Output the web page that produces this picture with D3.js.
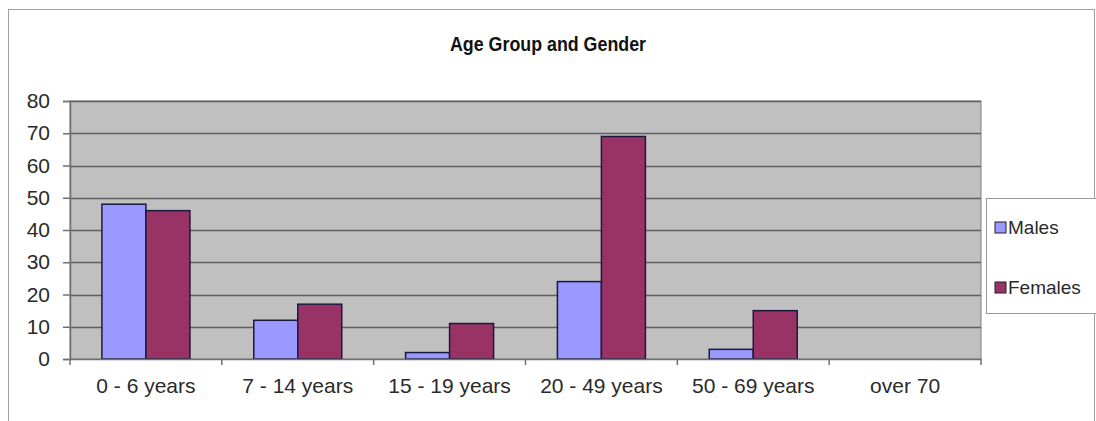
<!DOCTYPE html>
<html lang="en">
<head>
  <meta charset="UTF-8">
  <title>Age Group and Gender</title>
  <script src="https://d3js.org/d3.v7.min.js"></script>
  <style>
    body { margin: 0; background: #fff; font-family: "Liberation Sans", Arial, sans-serif; }
    svg { display: block; }
  </style>
</head>
<body>
  <div id="chart"></div>
  <script>
    const categories = ['0 - 6 years', '7 - 14 years', '15 - 19 years', '20 - 49 years', '50 - 69 years', 'over 70'];
    const males = [48, 12, 2, 24, 3, 0];
    const females = [46, 17, 11, 69, 15, 0];
    const yTicks = [0, 10, 20, 30, 40, 50, 60, 70, 80];
    const seriesNames = ['Males', 'Females'];
    const colors = ['#9999ff', '#993366'];

    const width = 1096, height = 421;
    const plot = { left: 70, right: 981, top: 101, bottom: 359 };
    const font = '"Liberation Sans", Arial, sans-serif';

    const svg = d3.select('#chart').append('svg')
      .attr('width', width)
      .attr('height', height);

    // outer chart frame
    svg.append('rect')
      .attr('x', 8.5).attr('y', 9.5)
      .attr('width', 1086).attr('height', 430)
      .attr('fill', '#fff')
      .attr('stroke', '#a0a0a0');

    svg.append('text')
      .attr('x', 548).attr('y', 51)
      .attr('text-anchor', 'middle')
      .attr('font-size', 21)
      .attr('font-weight', 'bold')
      .attr('textLength', 196)
      .attr('lengthAdjust', 'spacingAndGlyphs')
      .attr('fill', '#111')
      .text('Age Group and Gender');

    const x = d3.scaleBand()
      .domain(categories)
      .range([plot.left, plot.right]);

    const y = d3.scaleLinear()
      .domain([0, 80])
      .range([plot.bottom, plot.top]);

    // plot background
    svg.append('rect')
      .attr('x', plot.left).attr('y', plot.top)
      .attr('width', plot.right - plot.left)
      .attr('height', plot.bottom - plot.top)
      .attr('fill', '#c0c0c0')
      .attr('stroke', '#808080');

    // gridlines
    svg.append('g')
      .selectAll('line')
      .data(yTicks.slice(1))
      .enter().append('line')
      .attr('x1', plot.left).attr('x2', plot.right)
      .attr('y1', d => Math.round(y(d)) + 0.5)
      .attr('y2', d => Math.round(y(d)) + 0.5)
      .attr('stroke', '#5e5e5e')
      .attr('stroke-width', 1.5);

    // bars
    const barW = 44;
    const series = [males, females];
    series.forEach((vals, s) => {
      svg.append('g')
        .selectAll('rect')
        .data(vals.map((v, i) => ({ v, c: categories[i] })).filter(d => d.v > 0))
        .enter().append('rect')
        .attr('x', d => x(d.c) + x.bandwidth() / 2 - barW + s * barW)
        .attr('y', d => y(d.v))
        .attr('width', barW)
        .attr('height', d => y(0) - y(d.v))
        .attr('fill', colors[s])
        .attr('stroke', '#1a1a40')
        .attr('stroke-width', 1.5);
    });

    // y axis
    const yAxis = svg.append('g')
      .attr('transform', `translate(${plot.left},0)`)
      .call(d3.axisLeft(y).tickValues(yTicks).tickSize(7).tickPadding(13));
    yAxis.select('.domain').attr('stroke', '#707070').attr('stroke-width', 1.5);
    yAxis.selectAll('.tick line').attr('stroke', '#707070').attr('stroke-width', 1.5);
    yAxis.selectAll('.tick text')
      .attr('font-size', 21)
      .attr('font-family', font)
      .attr('fill', '#2a2a2a');

    // x axis
    const xAxis = svg.append('g')
      .attr('transform', `translate(0,${plot.bottom})`)
      .call(d3.axisBottom(x).tickSize(0).tickPadding(19));
    xAxis.select('.domain').attr('stroke', '#707070').attr('stroke-width', 1.5);
    xAxis.selectAll('.tick text')
      .attr('font-size', 21)
      .attr('font-family', font)
      .attr('fill', '#2a2a2a');
    // category separator ticks
    svg.append('g')
      .selectAll('line')
      .data(categories.concat(['end']))
      .enter().append('line')
      .attr('x1', (d, i) => i < categories.length ? x(d) : plot.right)
      .attr('x2', (d, i) => i < categories.length ? x(d) : plot.right)
      .attr('y1', plot.bottom).attr('y2', plot.bottom + 6)
      .attr('stroke', '#707070')
      .attr('stroke-width', 1.5);

    // legend
    const lg = svg.append('g');
    lg.append('rect')
      .attr('x', 986.5).attr('y', 198.5)
      .attr('width', 120).attr('height', 115)
      .attr('fill', '#fff')
      .attr('stroke', '#9a9a9a');
    seriesNames.forEach((name, i) => {
      const ly = 227 + i * 60;
      lg.append('rect')
        .attr('x', 995).attr('y', ly - 5)
        .attr('width', 11).attr('height', 11)
        .attr('fill', colors[i])
        .attr('stroke', '#222');
      lg.append('text')
        .attr('x', 1008).attr('y', ly + 7)
        .attr('font-size', 19)
        .attr('font-family', font)
        .attr('fill', '#2a2a2a')
        .text(name);
    });
  </script>
</body>
</html>
